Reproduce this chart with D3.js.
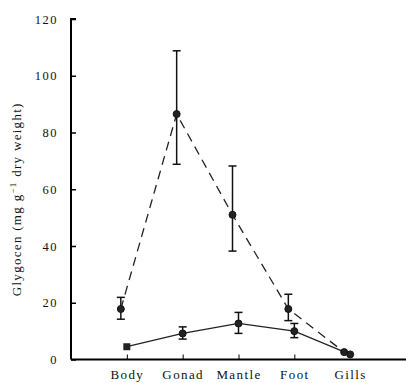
<!DOCTYPE html>
<html>
<head>
<meta charset="utf-8">
<script src="https://cdn.jsdelivr.net/npm/d3@7"></script>
<style>
  body { margin: 0; background: #fff; }
  text { font-family: "Liberation Serif", "DejaVu Serif", serif; fill: #111; }
</style>
</head>
<body>
<div id="chart"></div>
<script>
// Data
var tissues = ["Body", "Gonad", "Mantle", "Foot", "Gills"];
var dashedMean = [17.8, 86.5, 51, 17.8, 2.6];
var dashedLow  = [14.2, 68.8, 38.2, 13.7, null];
var dashedHigh = [21.9, 108.8, 68.2, 23, null];
var solidMean  = [4.5, 9.2, 12.7, 10, 1.8];
var solidLow   = [null, 7.2, 9.2, 7.7, null];
var solidHigh  = [null, 11.5, 16.6, 12.7, null];
var yTicks = [0, 20, 40, 60, 80, 100, 120];

var svgWidth = 406;
var svgHeight = 383;

var margin = { top: 19, right: 0, bottom: 23.5, left: 71 };
var width = svgWidth - margin.left - margin.right;
var height = svgHeight - margin.top - margin.bottom;

var svg = d3.select("#chart")
    .append("svg")
    .attr("width", svgWidth)
    .attr("height", svgHeight);

var chartGroup = svg.append("g")
    .attr("transform", `translate(${margin.left}, ${margin.top})`);

// scales
var xScale = d3.scalePoint()
    .domain(tissues)
    .range([0, width])
    .padding(1);

var yScale = d3.scaleLinear()
    .domain([0, 120])
    .range([height, 0]);

// axes (ticks point inwards)
var bottomAxis = d3.axisBottom(xScale).tickSize(-5).tickPadding(10);
var leftAxis = d3.axisLeft(yScale).tickValues(yTicks).tickSize(-5).tickPadding(13);

var xAxisG = chartGroup.append("g")
    .attr("transform", `translate(0, ${height})`)
    .call(bottomAxis);
xAxisG.select(".domain").attr("stroke-width", 2).attr("d", `M0,0H${width}`);
xAxisG.selectAll(".tick").filter(d => d === "Gills").select("line").remove();
xAxisG.selectAll("text")
    .style("font-size", "13px")
    .style("letter-spacing", "1.4px");

var yAxisG = chartGroup.append("g").call(leftAxis);
yAxisG.select(".domain").attr("stroke-width", 2).attr("d", `M0,${height}V0H5`);
yAxisG.selectAll(".tick line").attr("stroke-width", 1.5);
yAxisG.selectAll("text")
    .style("font-size", "12.5px")
    .style("letter-spacing", "1.5px");

// helpers
function series(means, lows, highs, dx) {
    return tissues.map(function(t, i) {
        return { cat: t, x: xScale(t) + dx, y: means[i], lo: lows[i], hi: highs[i] };
    });
}
var dashed = series(dashedMean, dashedLow, dashedHigh, -6);
var solid = series(solidMean, solidLow, solidHigh, 0);

var line = d3.line().x(d => d.x).y(d => yScale(d.y));

// lines
chartGroup.append("path")
    .datum(dashed)
    .attr("d", line)
    .attr("fill", "none")
    .attr("stroke", "#222")
    .attr("stroke-width", 1.3)
    .attr("stroke-dasharray", "9,6");

chartGroup.append("path")
    .datum(solid)
    .attr("d", line)
    .attr("fill", "none")
    .attr("stroke", "#222")
    .attr("stroke-width", 1.3);

// error bars
function errorBars(data) {
    var eb = chartGroup.append("g")
        .selectAll("g")
        .data(data.filter(d => d.lo != null))
        .enter()
        .append("g")
        .attr("stroke", "#111")
        .attr("stroke-width", 1.5);
    eb.append("line")
        .attr("x1", d => d.x).attr("x2", d => d.x)
        .attr("y1", d => yScale(d.lo)).attr("y2", d => yScale(d.hi));
    eb.append("line")
        .attr("x1", d => d.x - 4).attr("x2", d => d.x + 4)
        .attr("y1", d => yScale(d.lo)).attr("y2", d => yScale(d.lo));
    eb.append("line")
        .attr("x1", d => d.x - 4).attr("x2", d => d.x + 4)
        .attr("y1", d => yScale(d.hi)).attr("y2", d => yScale(d.hi));
}
errorBars(dashed);
errorBars(solid);

// markers
chartGroup.selectAll(".dashed-pt")
    .data(dashed)
    .enter()
    .append("circle")
    .attr("class", "dashed-pt")
    .attr("cx", d => d.x)
    .attr("cy", d => yScale(d.y))
    .attr("r", 3.5)
    .attr("fill", "#222")
    .attr("stroke", "#111");

chartGroup.selectAll(".solid-pt")
    .data(solid.filter(d => d.cat !== "Body"))
    .enter()
    .append("circle")
    .attr("class", "solid-pt")
    .attr("cx", d => d.x)
    .attr("cy", d => yScale(d.y))
    .attr("r", 3.5)
    .attr("fill", "#222")
    .attr("stroke", "#111");

chartGroup.selectAll(".solid-sq")
    .data(solid.filter(d => d.cat === "Body"))
    .enter()
    .append("rect")
    .attr("class", "solid-sq")
    .attr("x", d => d.x - 3.5)
    .attr("y", d => yScale(d.y) - 3.5)
    .attr("width", 7)
    .attr("height", 7)
    .attr("fill", "#222");

// Y axis label
var yLabel = svg.append("text")
    .attr("transform", `translate(21, ${margin.top + height / 2 + 10}) rotate(-90)`)
    .attr("text-anchor", "middle")
    .style("font-size", "13px")
    .style("letter-spacing", "1.3px");
yLabel.append("tspan").text("Glygocen (mg g");
yLabel.append("tspan").attr("dy", -5).style("font-size", "9px").text("\u22121");
yLabel.append("tspan").attr("dy", 5).text(" dry weight)");
</script>
</body>
</html>
